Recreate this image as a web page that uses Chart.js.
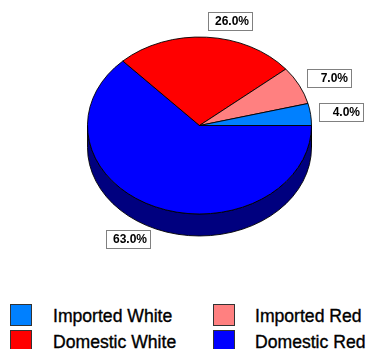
<!DOCTYPE html>
<html>
<head>
<meta charset="utf-8">
<script src="https://cdn.jsdelivr.net/npm/chart.js@4/dist/chart.umd.min.js"></script>
<style>
  html, body { margin: 0; padding: 0; background: #fff; }
  #wrap { position: relative; width: 369px; height: 349px; overflow: hidden; background: #fff; }
  #pie { position: absolute; left: 0; top: 0; }
  .swatch { position: absolute; width: 20px; height: 20px; border: 1px solid #333; }
  .name { position: absolute; font-family: "Liberation Sans", Arial, sans-serif; font-size: 17.6px;
          line-height: 22px; color: #000; white-space: nowrap; -webkit-text-stroke: 0.35px #000; }
</style>
</head>
<body>
<div id="wrap">
  <canvas id="pie" width="369" height="270"></canvas>
  <div id="legend"></div>
</div>
<script>
// Wine sales share by type (percent)
const categories = ['Imported White', 'Imported Red', 'Domestic White', 'Domestic Red'];
const shares = [4, 7, 26, 63];
const colors = ['#0080ff', '#ff8080', '#ff0000', '#0000ff'];

// Look of the tilted pie
const SQUASH = 0.79;   // vertical squeeze of the top face
const DEPTH = 22;      // thickness of the rim, px
const GAP = 7;         // distance of value boxes from the rim

// Slices are laid clockwise by Chart.js; reverse so the series runs
// counter-clockwise from 3 o'clock.
const order = categories.map((_, i) => i).reverse();

function shade(hex) {
  const n = parseInt(hex.slice(1), 16);
  const r = (n >> 16) & 255, g = (n >> 8) & 255, b = n & 255;
  return `rgb(${r >> 1},${g >> 1},${b >> 1})`;
}

const tiltPlugin = {
  id: 'tilt',
  beforeDatasetsDraw(chart) {
    const arcs = chart.getDatasetMeta(0).data;
    const { x: cx, y: cy, outerRadius: r } = arcs[0];
    const ctx = chart.ctx;
    ctx.save();
    ctx.translate(cx, cy);
    ctx.scale(1, SQUASH);
    ctx.translate(-cx, -cy);
    const d = DEPTH / SQUASH;
    arcs.forEach((arc) => {
      const color = arc.options.backgroundColor;
      [0, 2 * Math.PI].forEach(base => {
        const a0 = Math.max(arc.startAngle, base);
        const a1 = Math.min(arc.endAngle, base + Math.PI);
        if (a1 <= a0) return;
        ctx.beginPath();
        ctx.arc(cx, cy, r, a0, a1);
        ctx.arc(cx, cy + d, r, a1, a0, true);
        ctx.closePath();
        ctx.fillStyle = shade(color);
        ctx.fill();
        ctx.lineWidth = 1;
        ctx.strokeStyle = '#000';
        ctx.stroke();
      });
    });
  },
  afterDatasetsDraw(chart) {
    chart.ctx.restore();
  },
  afterDraw(chart) {
    const arcs = chart.getDatasetMeta(0).data;
    const ds = chart.data.datasets[0].data;
    const { x: cx, y: cy, outerRadius: r } = arcs[0];
    const ry = r * SQUASH;
    const ctx = chart.ctx;
    ctx.save();
    ctx.font = 'bold 12px "Liberation Sans", Arial, sans-serif';
    const texts = ds.map(v => v.toFixed(1) + '%');
    const w = Math.round(Math.max(...texts.map(t => ctx.measureText(t).width)) + 10);
    const h = 18;
    arcs.forEach((arc, i) => {
      const mid = (arc.startAngle + arc.endAngle) / 2;
      const c = Math.cos(mid), s = Math.sin(mid);
      const px = cx + (r + GAP) * c;
      const py = cy + (ry + GAP) * s + (s > 0 ? DEPTH * 0.85 * s : 0);
      const left = Math.round(c >= 0 ? px + 1 : px - w - 2);
      const top = Math.round(py - h * (1 - s) / 2);
      ctx.fillStyle = '#fff';
      ctx.fillRect(left, top, w, h);
      ctx.strokeStyle = '#808080';
      ctx.lineWidth = 1;
      ctx.strokeRect(left + 0.5, top + 0.5, w, h);
      ctx.fillStyle = '#000';
      ctx.textAlign = 'right';
      ctx.textBaseline = 'middle';
      ctx.fillText(texts[i], left + w - 3, top + h / 2 + 1);
    });
    ctx.restore();
  }
};

new Chart(document.getElementById('pie'), {
  type: 'pie',
  data: {
    labels: order.map(i => categories[i]),
    datasets: [{
      data: order.map(i => shares[i]),
      backgroundColor: order.map(i => colors[i]),
      borderColor: '#000',
      borderWidth: 1,
      clip: false
    }]
  },
  options: {
    responsive: false,
    animation: false,
    rotation: 90,
    layout: { padding: { left: 87, right: 57, top: 13, bottom: 32 } },
    plugins: { legend: { display: false }, tooltip: { enabled: false } },
    events: []
  },
  plugins: [tiltPlugin]
});

// Two-column key below the pie
const legend = document.getElementById('legend');
categories.forEach((name, i) => {
  const col = i % 2, row = Math.floor(i / 2);
  const sw = document.createElement('div');
  sw.className = 'swatch';
  sw.style.left = (10 + col * 203) + 'px';
  sw.style.top = (304 + row * 26) + 'px';
  sw.style.background = colors[i];
  legend.appendChild(sw);
  const tx = document.createElement('div');
  tx.className = 'name';
  tx.style.left = (53 + col * 202) + 'px';
  tx.style.top = (305 + row * 26) + 'px';
  tx.textContent = name;
  legend.appendChild(tx);
});
</script>
</body>
</html>
